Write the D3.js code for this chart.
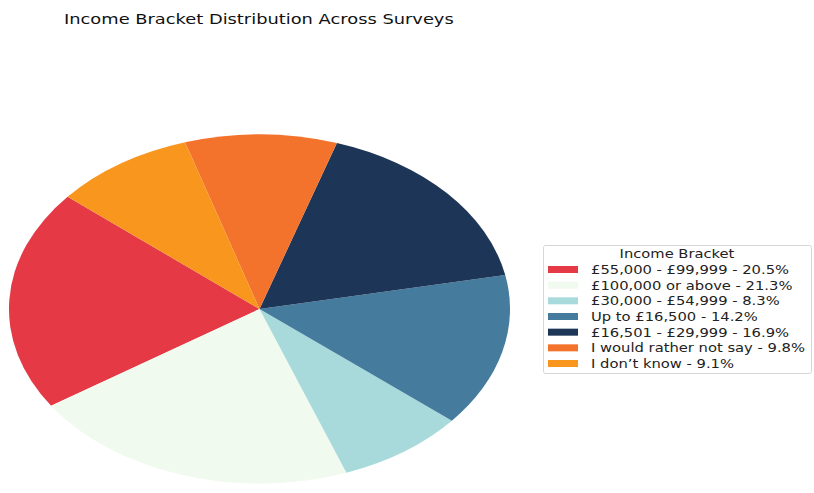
<!DOCTYPE html>
<html>
<head>
<meta charset="utf-8">
<script src="https://cdn.jsdelivr.net/npm/d3@7"></script>
<style>
  html, body { margin: 0; padding: 0; background: #fff; }
  svg { display: block; font-family: "DejaVu Sans", sans-serif; }
</style>
</head>
<body>
<svg id="chart" width="814" height="493"></svg>
<script>
// Income brackets and their share of responses (%)
const categories = [
  "£55,000 - £99,999",
  "£100,000 or above",
  "£30,000 - £54,999",
  "Up to £16,500",
  "£16,501 - £29,999",
  "I would rather not say",
  "I don’t know"
];
const shares = [20.5, 21.3, 8.3, 14.2, 16.9, 9.8, 9.1];
const colors = ["#E63946", "#F1FAEE", "#A8DADC", "#457B9D", "#1D3557", "#F3722C", "#F8961E"];

const title = "Income Bracket Distribution Across Surveys";
const legendTitle = "Income Bracket";

const svg = d3.select("#chart");

const data = categories.map((c, i) => ({ name: c, value: shares[i], color: colors[i] }));

// Pie laid out counter-clockwise, first wedge starting at 140° from east
const start = (90 - 140) * Math.PI / 180;
const pie = d3.pie()
  .sort(null)
  .value(d => d.value)
  .startAngle(start)
  .endAngle(start - 2 * Math.PI);

const arc = d3.arc().innerRadius(0).outerRadius(1);

const cx = 259.5, cy = 309, rx = 250.5, ry = 174.5;
const g = svg.append("g").attr("transform", `translate(${cx},${cy}) scale(${rx},${ry})`);

g.selectAll("path")
  .data(pie(data))
  .join("path")
  .attr("d", arc)
  .attr("fill", d => d.data.color);

// Text is drawn slightly widened horizontally
const textScale = 1.25;

// Title
svg.append("text")
  .attr("transform", `translate(64,24) scale(1.23,1)`)
  .attr("font-size", 14.5)
  .attr("fill", "#111")
  .text(title);

// Legend
const lg = svg.append("g");
lg.append("rect")
  .attr("x", 543.5).attr("y", 245.5)
  .attr("width", 268).attr("height", 128)
  .attr("rx", 2)
  .attr("fill", "#fff")
  .attr("stroke", "#d6d6d6");

lg.append("text")
  .attr("transform", `translate(677,258) scale(1.28,1)`)
  .attr("text-anchor", "middle")
  .attr("font-size", 11.5)
  .attr("fill", "#222")
  .text(legendTitle);

const rowY = d3.scaleLinear().domain([0, 6]).range([269.5, 363.5]);
const rows = lg.selectAll("g.row")
  .data(data)
  .join("g")
  .attr("class", "row")
  .attr("transform", (d, i) => `translate(0,${rowY(i)})`);

rows.append("rect")
  .attr("x", 548).attr("y", -3.5)
  .attr("width", 30).attr("height", 7)
  .attr("fill", d => d.color);

rows.append("text")
  .attr("transform", `translate(591,4.5) scale(${textScale},1)`)
  .attr("font-size", 11.8)
  .attr("fill", "#222")
  .text(d => `${d.name} - ${d.value}%`);
</script>
</body>
</html>
